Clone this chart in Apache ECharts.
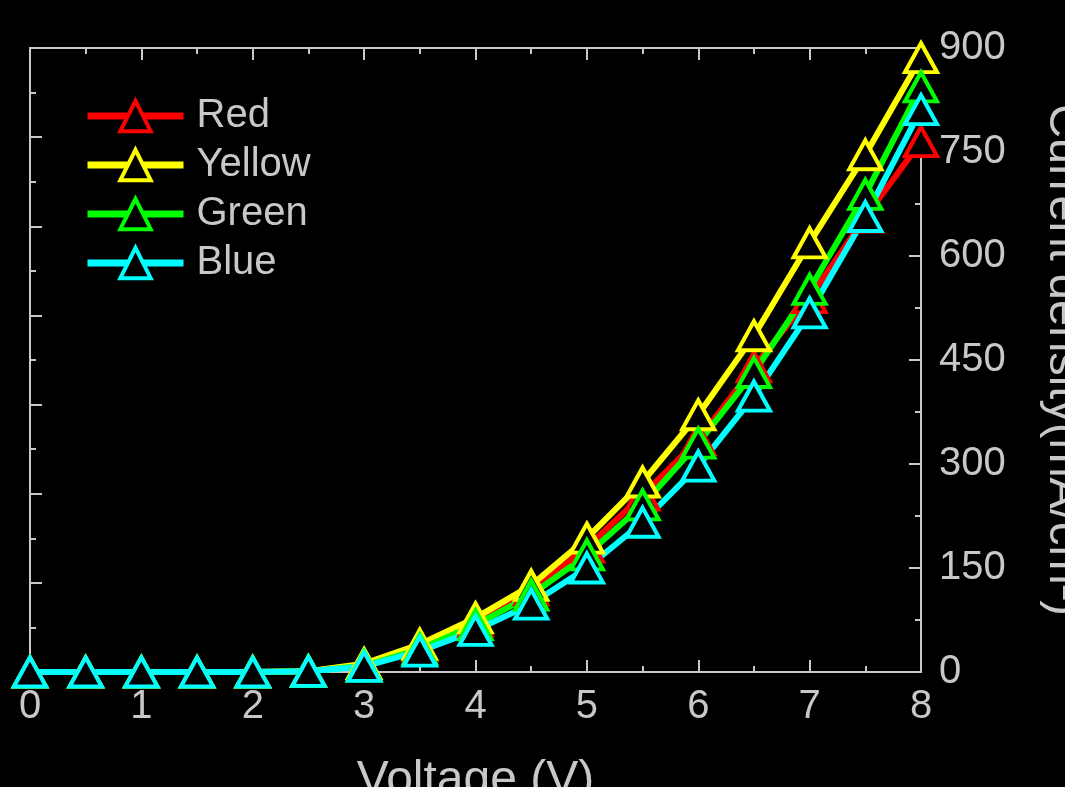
<!DOCTYPE html>
<html>
<head>
<meta charset="utf-8">
<script src="https://cdn.jsdelivr.net/npm/echarts@6/dist/echarts.min.js"></script>
<style>
html,body{margin:0;padding:0;background:#000;}
#chart{width:1065px;height:787px;}
</style>
</head>
<body>
<div id="chart"></div>
<script>
// Data
const voltage = [0, 0.5, 1, 1.5, 2, 2.5, 3, 3.5, 4, 4.5, 5, 5.5, 6, 6.5, 7, 7.5, 8];
const redJ    = [0, 0, 0, 0, 0, 1, 11, 37, 73, 118, 180, 255, 335, 440, 540, 656, 765];
const yellowJ = [0, 0, 0, 0, 0, 1, 12, 40, 78, 125, 193, 274, 371, 485, 619, 746, 886];
const greenJ  = [0, 0, 0, 0, 0, 1, 9, 33, 68, 111, 169, 241, 330, 432, 552, 689, 844];
const blueJ   = [0, 0, 0, 0, 0, 1, 8, 30, 60, 98, 150, 216, 297, 398, 518, 657, 811];
const seriesNames = ['Red', 'Yellow', 'Green', 'Blue'];
const seriesColors = ['#ff0000', '#ffff00', '#00ff00', '#00ffff'];
const seriesData = [redJ, yellowJ, greenJ, blueJ];
const xTicks = [0, 8, 1];        // min, max, interval
const yTicks = [0, 900, 150];    // min, max, interval

const FONT = '"Liberation Sans", Arial, sans-serif';
const GRAY = '#c8c8c8';

const chart = echarts.init(document.getElementById('chart'));

const axisCommon = {
  axisLine: { show: true, onZero: false, lineStyle: { color: GRAY, width: 2 } },
  axisTick: { show: true, inside: true, length: 12, lineStyle: { color: GRAY, width: 2 } },
  minorTick: { show: true, splitNumber: 2, length: 6, lineStyle: { color: GRAY, width: 2 } },
  splitLine: { show: false },
  minorSplitLine: { show: false }
};

const series = seriesNames.map((name, i) => ({
  name: name,
  type: 'line',
  xAxisIndex: 0,
  yAxisIndex: 0,
  data: voltage.map((v, k) => [v, seriesData[i][k]]),
  symbol: 'triangle',
  symbolSize: [32, 29],
  showAllSymbol: true,
  clip: true,
  lineStyle: { color: seriesColors[i], width: 6 },
  itemStyle: { color: '#000000', borderColor: seriesColors[i], borderWidth: 4 },
  emphasis: { disabled: true },
  animation: false
}));

chart.setOption({
  backgroundColor: '#000000',
  animation: false,
  grid: { left: 30, right: 144, top: 48, bottom: 115, containLabel: false, outerBoundsMode: 'none' },
  legend: {
    orient: 'vertical',
    left: 79,
    top: 91,
    itemWidth: 96,
    itemHeight: 38,
    itemGap: 9,
    data: seriesNames,
    lineStyle: { width: 7 },
    itemStyle: { borderWidth: 4 },
    textStyle: { color: GRAY, fontSize: 40, fontFamily: FONT, padding: [0, 0, 0, 8] }
  },
  xAxis: [
    Object.assign({
      type: 'value', position: 'bottom',
      min: xTicks[0], max: xTicks[1], interval: xTicks[2],
      name: 'Voltage (V)', nameLocation: 'middle', nameGap: 85,
      nameTextStyle: { color: GRAY, fontSize: 48, fontFamily: FONT },
      axisLabel: { color: GRAY, fontSize: 40, fontFamily: FONT, margin: 15 }
    }, axisCommon),
    Object.assign({
      type: 'value', position: 'top',
      min: xTicks[0], max: xTicks[1], interval: xTicks[2],
      axisLabel: { show: false }
    }, axisCommon)
  ],
  yAxis: [
    Object.assign({
      type: 'value', position: 'right',
      min: yTicks[0], max: yTicks[1], interval: yTicks[2],
      name: 'Current density(mA/cm²)', nameLocation: 'middle', nameGap: 118, nameRotate: -90,
      nameTextStyle: { color: GRAY, fontSize: 47, fontFamily: FONT },
      axisLabel: { color: GRAY, fontSize: 40, fontFamily: FONT, margin: 18 }
    }, axisCommon),
    Object.assign({
      type: 'value', position: 'left',
      min: 0, max: 7, interval: 1,
      axisLabel: { show: false }
    }, axisCommon)
  ],
  series: series
});
</script>
</body>
</html>
